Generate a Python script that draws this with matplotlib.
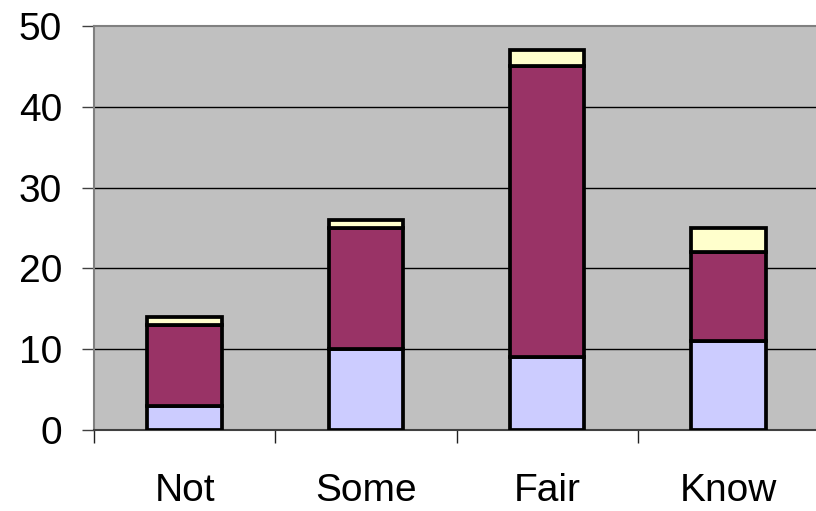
import numpy as np
import matplotlib.pyplot as plt

# data
categories = ['Not', 'Some', 'Fair', 'Know']
low = [3, 10, 9, 11]
mid = [10, 15, 36, 11]
high = [1, 1, 2, 3]

plt.rcParams['font.family'] = ['Liberation Sans', 'DejaVu Sans']

fig = plt.figure(figsize=(8.16, 5.11), dpi=100)
ax = fig.add_axes([0.1152, 0.1585, 0.8885, 0.7905])
ax.set_facecolor('#C0C0C0')

x = np.arange(len(categories))
barWidth = 0.41
colours = ['#CCCCFF', '#993366', '#FFFFCC']

bottom = np.zeros(len(categories))
for vals, col in zip([low, mid, high], colours):
    ax.bar(x, vals, bottom=bottom, width=barWidth, color=col,
           edgecolor='black', linewidth=2.7, zorder=3)
    bottom = bottom + np.array(vals)

ax.set_xlim(-0.5, len(categories) - 0.5)
ax.set_ylim(0, 50)

# grid lines at the y ticks
for yv in [10, 20, 30, 40]:
    ax.axhline(yv, color='black', linewidth=1.0, zorder=1)

ax.set_yticks([0, 10, 20, 30, 40, 50])
ax.tick_params(axis='y', labelsize=28, length=9, width=1, pad=14, color='#404040')

# category boundaries as ticks, labels at centres
ax.set_xticks(np.arange(len(categories) + 1) - 0.5)
ax.set_xticklabels([])
ax.tick_params(axis='x', which='major', length=9, width=1, color='#202020')
ax.set_xticks(x, minor=True)
ax.set_xticklabels(categories, minor=True)
ax.tick_params(axis='x', which='minor', length=0, labelsize=28, pad=31)

for side in ['top', 'left', 'right']:
    ax.spines[side].set_color('#808080')
    ax.spines[side].set_linewidth(1.5)
ax.spines['bottom'].set_color('#404040')
ax.spines['bottom'].set_linewidth(1.5)

fig.savefig('out.png', dpi=100)
